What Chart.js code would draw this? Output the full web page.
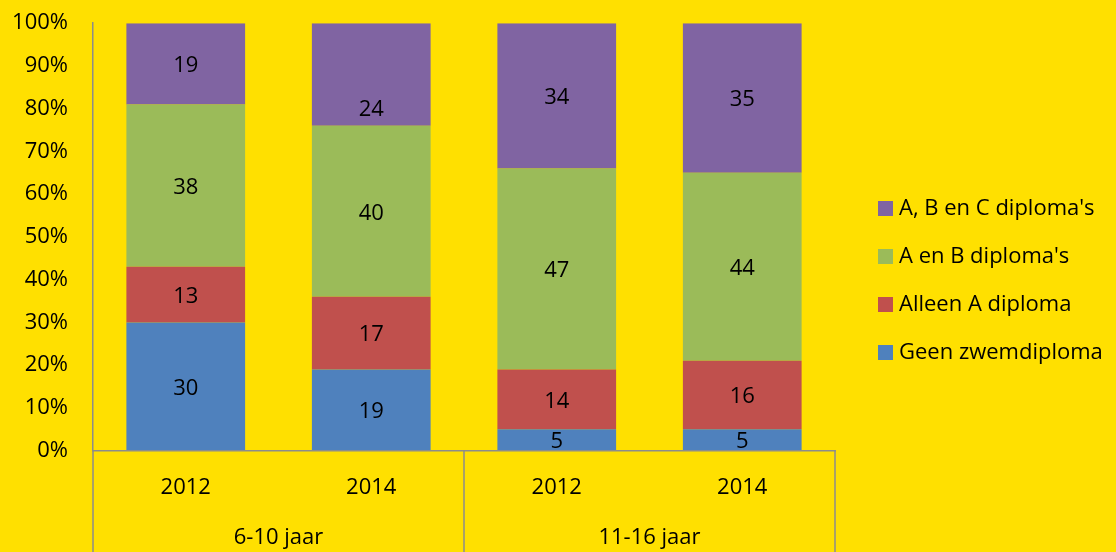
<!DOCTYPE html>
<html>
<head>
<meta charset="utf-8">
<script src="https://cdn.jsdelivr.net/npm/chart.js@4/dist/chart.umd.min.js"></script>
<style>
  html, body { margin: 0; padding: 0; background: #FFE000; overflow: hidden; }
  #wrap { width: 1116px; height: 552px; position: relative; }
</style>
</head>
<body>
<div id="wrap"><canvas id="diplomaChart"></canvas></div>
<script>
// categories
const years = ['2012', '2014', '2012', '2014'];
const ageGroups = ['6-10 jaar', '11-16 jaar'];

// series (percent of children)
const seriesNames = ['Geen zwemdiploma', 'Alleen A diploma', "A en B diploma's", "A, B en C diploma's"];
const geenDiploma = [30, 19, 5, 5];
const alleenA = [13, 17, 14, 16];
const aEnB = [38, 40, 47, 44];
const aBenC = [19, 24, 34, 35];

const yTicks = [0, 10, 20, 30, 40, 50, 60, 70, 80, 90, 100];

const colors = ['#4F81BD', '#C0504D', '#9BBB59', '#8064A2'];
const FONT = '"Open Sans"';
const FONT_SIZE = 22;
const AXIS_GREY = '#8C8C8C';

// value labels in the middle of each segment
const segmentLabels = {
  id: 'segmentLabels',
  afterDatasetsDraw(chart, args, opts) {
    const ctx = chart.ctx;
    ctx.save();
    ctx.font = FONT_SIZE + 'px ' + FONT;
    ctx.fillStyle = '#000';
    ctx.textAlign = 'center';
    ctx.textBaseline = 'middle';
    chart.data.datasets.forEach((ds, di) => {
      const meta = chart.getDatasetMeta(di);
      meta.data.forEach((bar, i) => {
        const nudge = (opts.nudge && opts.nudge[di + ':' + i]) || 0;
        const y = (bar.y + bar.base) / 2 + 2 + nudge;
        ctx.fillText(ds.data[i], bar.x, y);
      });
    });
    ctx.restore();
  }
};

// vertical separators of the two-level category axis
const groupLines = {
  id: 'groupLines',
  afterDraw(chart) {
    const ctx = chart.ctx;
    const x = chart.scales.x;
    const area = chart.chartArea;
    const half = (x.getPixelForTick(1) - x.getPixelForTick(0)) / 2;
    const xs = [x.getPixelForTick(0) - half, x.getPixelForTick(2) - half, x.getPixelForTick(3) + half];
    ctx.save();
    ctx.strokeStyle = AXIS_GREY;
    ctx.lineWidth = 1.5;
    xs.forEach(px => {
      ctx.beginPath();
      ctx.moveTo(px, area.bottom);
      ctx.lineTo(px, chart.height);
      ctx.stroke();
    });
    ctx.restore();
  }
};

// legend on the right, top series first (like the original)
const sideLegend = {
  id: 'sideLegend',
  afterDraw(chart) {
    const ctx = chart.ctx;
    const area = chart.chartArea;
    const items = chart.data.datasets.slice().reverse();
    const step = 48;
    const x0 = area.right + 43;
    let y = chart.height / 2 - 1.5 * step + 4;
    ctx.save();
    ctx.font = FONT_SIZE + 'px ' + FONT;
    ctx.textBaseline = 'middle';
    ctx.textAlign = 'left';
    items.forEach(ds => {
      ctx.fillStyle = ds.backgroundColor;
      ctx.fillRect(x0, y - 7, 15, 15);
      ctx.fillStyle = '#000';
      ctx.fillText(ds.label, x0 + 21, y + 1);
      y += step;
    });
    ctx.restore();
  }
};

const seriesData = [geenDiploma, alleenA, aEnB, aBenC];

new Chart(document.getElementById('diplomaChart'), {
  type: 'bar',
  data: {
    labels: years,
    datasets: seriesNames.map((name, i) => ({
      label: name,
      data: seriesData[i],
      backgroundColor: colors[i],
      borderWidth: 0,
      categoryPercentage: 1,
      barPercentage: 0.64,
      xAxisID: 'x'
    }))
  },
  options: {
    responsive: true,
    maintainAspectRatio: false,
    animation: false,
    layout: { padding: { top: 0, right: 281, bottom: 0, left: 0 } },
    plugins: {
      legend: { display: false },
      tooltip: { enabled: false },
      segmentLabels: { nudge: { '3:1': 33 } }
    },
    scales: {
      x: {
        stacked: true,
        position: 'bottom',
        weight: 0,
        offset: true,
        grid: { display: false, drawTicks: false },
        border: { display: true, color: AXIS_GREY, width: 1.5 },
        ticks: { color: '#000', font: { family: FONT, size: FONT_SIZE }, padding: 23.5, maxRotation: 0 }
      },
      x2: {
        type: 'category',
        labels: ageGroups,
        position: 'bottom',
        weight: 1,
        offset: true,
        grid: { display: false, drawTicks: false },
        border: { display: false },
        ticks: { color: '#000', font: { family: FONT, size: FONT_SIZE }, padding: 0.8, maxRotation: 0 }
      },
      y: {
        stacked: true,
        min: 0,
        max: 100,
        afterFit: scale => { scale.width = 93; },
        afterBuildTicks: scale => { scale.ticks = yTicks.map(v => ({ value: v })); },
        grid: { display: true, drawOnChartArea: false, drawTicks: true, tickLength: 15, color: 'rgba(0,0,0,0)' },
        border: { display: true, color: AXIS_GREY, width: 1.5 },
        ticks: {
          color: '#000',
          padding: 10,
          font: { family: FONT, size: FONT_SIZE },
          callback: v => v + '%'
        }
      }
    }
  },
  plugins: [segmentLabels, groupLines, sideLegend]
});
</script>
</body>
</html>
